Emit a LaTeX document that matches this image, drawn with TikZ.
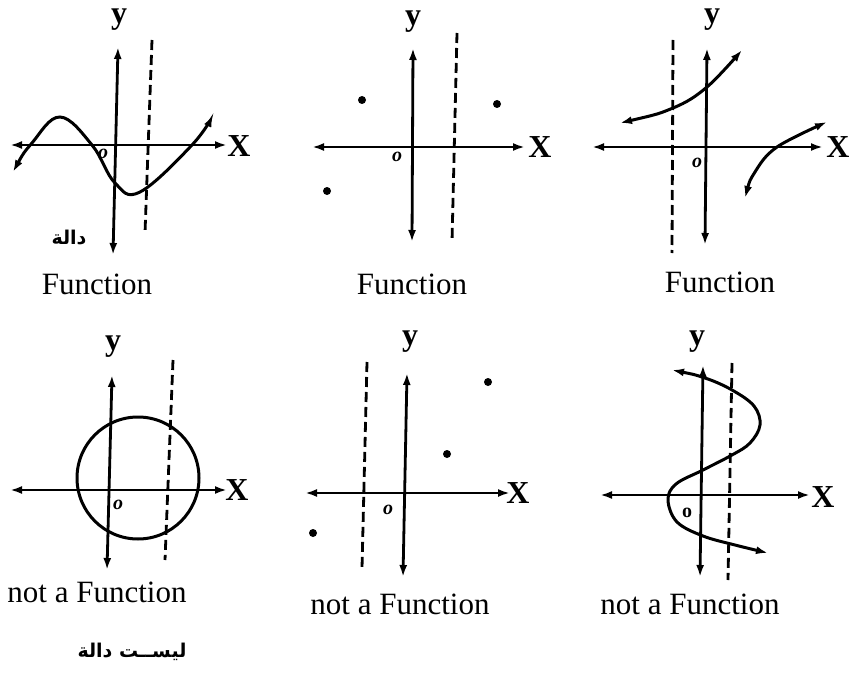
\documentclass[tikz,border=0pt]{standalone}
\usepackage{fontspec}
\setmainfont{Liberation Serif}
\newfontfamily\arabicfont[Script=Arabic]{DejaVu Sans}
\TeXXeTstate=1
\usetikzlibrary{arrows.meta}

\tikzset{
  axis/.style={line width=2.8pt, {Latex[length=12pt,width=8pt]}-{Latex[length=12pt,width=8pt]}},
  guide/.style={line width=2.8pt, dash pattern=on 10pt off 5pt},
  graph/.style={line width=3pt},
  garrow/.style={graph, {Latex[length=12pt,width=8pt]}-{Latex[length=12pt,width=8pt]}},
  lbl/.style={font=\fontsize{32}{32}\selectfont\bfseries},
  orig/.style={font=\fontsize{20}{20}\selectfont\bfseries\itshape},
  caption/.style={font=\fontsize{31}{36}\selectfont},
  artext/.style={font=\fontsize{19}{22}\selectfont\arabicfont\bfseries}
}

\begin{document}
\begin{tikzpicture}[x=1pt, y=-1pt]
  \useasboundingbox (0,0) rectangle (851,674);

  % Panel 1: wave
  \draw[axis] (10,145) -- (227,145);
  \draw[axis] (118,47) -- (113,255);
  \draw[guide] (152,40) -- (145,233);
  \draw[garrow] plot[smooth, tension=0.65] coordinates
    {(13,172) (32,143) (60,117) (92,145) (115,183) (140,192) (192,145) (213,115)};
  \node[lbl] (y1) at (119,20) {y};
  \node[lbl] (x1) at (239,146) {X};
  \node[orig] (o1) at (103,154) {o};
  \node[artext] (ar1) at (69,238) {\beginR دالة\endR};
  \node[caption] (c1) at (97,284) {Function};

  % Panel 2: points
  \draw[axis] (312,147) -- (525,147);
  \draw[axis] (413,48) -- (412,242);
  \draw[guide] (457,33) -- (452,242);
  \fill (362,100) circle (4pt);
  \fill (497,104) circle (4pt);
  \fill (327,191) circle (4pt);
  \node[lbl] (y2) at (413,22) {y};
  \node[lbl] (x2) at (540,147) {X};
  \node[orig] (o2) at (397,157) {o};
  \node[caption] (c2) at (412,284) {Function};

  % Panel 3: two branches
  \draw[axis] (592,147) -- (823,147);
  \draw[axis] (707,48) -- (705,245);
  \draw[guide] (673,40) -- (672,253);
  \draw[garrow] plot[smooth, tension=0.6] coordinates
    {(620,123) (673,108) (707,87) (742,50)};
  \draw[garrow] plot[smooth, tension=0.6] coordinates
    {(745,198) (755,172) (777,147) (827,122)};
  \node[lbl] (y3) at (712,20) {y};
  \node[lbl] (x3) at (838,147) {X};
  \node[orig] (o3) at (697,163) {o};
  \node[caption] (c3) at (720,282) {Function};

  % Panel 4: circle
  \draw[axis] (10,490) -- (227,490);
  \draw[axis] (112,375) -- (107,570);
  \draw[guide] (173,360) -- (165,560);
  \draw[graph] (138,478) circle[radius=61pt];
  \node[lbl] (y4) at (113,347) {y};
  \node[lbl] (x4) at (237,490) {X};
  \node[orig] (o4) at (118,505) {o};
  \node[caption] (c4) at (97,592) {not a Function};
  \node[artext] (ar4) at (132,652) {\beginR ليســت دالة\endR};

  % Panel 5: points
  \draw[axis] (305,493) -- (510,493);
  \draw[axis] (407,373) -- (403,577);
  \draw[guide] (367,362) -- (362,568);
  \fill (488,382) circle (4pt);
  \fill (447,454) circle (4pt);
  \fill (313,533) circle (4pt);
  \node[lbl] (y5) at (410,342) {y};
  \node[lbl] (x5) at (518,493) {X};
  \node[orig] (o5) at (388,510) {o};
  \node[caption] (c5) at (400,604) {not a Function};

  % Panel 6: S curve
  \draw[axis] (600,495) -- (810,495);
  \draw[axis] (703,365) -- (700,577);
  \draw[guide] (732,363) -- (728,580);
  \draw[garrow] plot[smooth, tension=0.6] coordinates
    {(672,370) (705,378) (732,390) (754,406) (760,425) (750,443) (732,455)
     (703,470) (676,484) (668,500) (677,522) (703,536) (735,545) (768,553)};
  \node[lbl] (y6) at (697,342) {y};
  \node[lbl] (x6) at (823,497) {X};
  \node[font=\fontsize{20}{20}\selectfont\bfseries] (o6) at (687,513) {o};
  \node[caption] (c6) at (690,604) {not a Function};
\end{tikzpicture}
\end{document}
